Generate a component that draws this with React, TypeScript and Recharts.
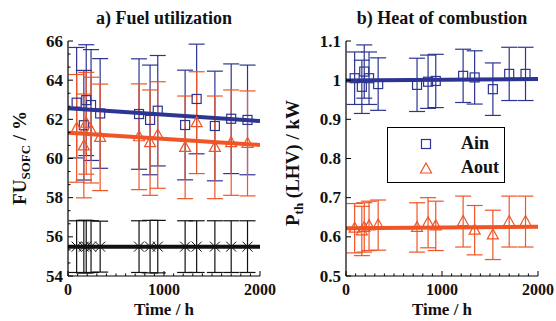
import React from 'react';
import { ComposedChart, Scatter, Line, XAxis, YAxis, ErrorBar, Legend } from 'recharts';

// ---------- data ----------
const times = [90, 165, 190, 240, 335, 740, 855, 935, 1220, 1340, 1530, 1700, 1870];

const fuIn = [62.85, 61.7, 62.98, 62.73, 62.3, 62.27, 61.97, 62.44, 61.71, 63.04, 61.66, 62.03, 61.97];
const fuInErr = [2.82, 2.8, 2.83, 2.83, 2.8, 2.82, 2.8, 2.82, 2.8, 2.8, 2.8, 2.8, 2.8];
const fuOut = [61.54, 60.64, 61.8, 61.45, 61.08, 61.11, 60.81, 61.2, 60.57, 61.83, 60.57, 60.81, 60.77];
const fuOutErr = [2.75, 2.65, 2.6, 2.7, 2.72, 2.7, 2.69, 2.72, 2.62, 2.6, 2.62, 2.69, 2.68];
const fuRef = [55.5, 55.5, 55.5, 55.5, 55.5, 55.5, 55.5, 55.5, 55.5, 55.5, 55.5, 55.5, 55.5];
const fuRefErr = [1.32, 1.34, 1.34, 1.32, 1.3, 1.32, 1.34, 1.34, 1.32, 1.32, 1.32, 1.32, 1.32];

const pIn = [1.005, 0.983, 1.022, 1.005, 0.99, 0.988, 0.996, 0.998, 1.011, 1.007, 0.977, 1.016, 1.016];
const pInErr = [0.067, 0.068, 0.068, 0.067, 0.067, 0.068, 0.068, 0.068, 0.068, 0.068, 0.067, 0.068, 0.068];
const pOut = [0.622, 0.615, 0.624, 0.628, 0.63, 0.624, 0.636, 0.628, 0.639, 0.617, 0.605, 0.639, 0.639];
const pOutErr = [0.063, 0.063, 0.063, 0.063, 0.064, 0.063, 0.064, 0.063, 0.065, 0.063, 0.063, 0.065, 0.065];

const trendT = [0, 2000];
const fuInTrend = [62.56, 61.91];
const fuOutTrend = [61.32, 60.69];
const fuRefTrend = [55.5, 55.5];
const pInTrend = [0.999, 1.003];
const pOutTrend = [0.622, 0.626];

const xMajor = [0, 1000, 2000];
const xMinor = Array.from({ length: 21 }, (_, i) => i * 100);
const fuMajor = [54, 56, 58, 60, 62, 64, 66];
const fuMinor = Array.from({ length: 19 }, (_, i) => 54 + (i * 2) / 3);
const pMajor = [0.5, 0.6, 0.7, 0.8, 0.9, 1.0, 1.1];

const legendLabels = ['Ain', 'Aout'];
const titles = ['a) Fuel utilization', 'b) Heat of combustion'];

// ---------- styles ----------
const BLUE = '#2c3592';
const ORANGE = '#ef5527';
const BLACK = '#111111';
const FONT = '"Liberation Serif", "Times New Roman", serif';

const build = (vals: number[], errs: number[]) => times.map((t, i) => ({ t, y: vals[i], e: errs[i] }));
const buildTrend = (vals: number[]) => trendT.map((t, i) => ({ t, y: vals[i] }));

const Square = (p: any) => (
  <rect x={p.cx - 4.5} y={p.cy - 4.5} width={9} height={9} fill="none" stroke={BLUE} strokeWidth={1.2} />
);
const Triangle = (p: any) => (
  <polygon
    points={`${p.cx},${p.cy - 6} ${p.cx - 5.5},${p.cy + 4} ${p.cx + 5.5},${p.cy + 4}`}
    fill="none"
    stroke={ORANGE}
    strokeWidth={1.2}
  />
);
const Cross = (p: any) => (
  <g stroke={BLACK} strokeWidth={1}>
    <line x1={p.cx - 5} y1={p.cy - 5} x2={p.cx + 5} y2={p.cy + 5} />
    <line x1={p.cx - 5} y1={p.cy + 5} x2={p.cx + 5} y2={p.cy - 5} />
  </g>
);

const isIn = (arr: number[], v: number) => arr.some((m) => Math.abs(m - v) < 1e-6);

const makeYTick = (side: 'left' | 'right', majors: number[], fmt: (v: number) => string) => (props: any) => {
  const { x, y, payload } = props;
  const v = payload.value;
  const major = isIn(majors, v);
  const len = major ? 5 : 2.5;
  const dir = side === 'left' ? 1 : -1;
  return (
    <g>
      <line x1={x} y1={y} x2={x + dir * len} y2={y} stroke="#000" strokeWidth={1} />
      {side === 'left' && major && (
        <text x={x - 5} y={y} textAnchor="end" dominantBaseline="central" fontFamily={FONT} fontWeight="bold" fontSize={17} fill="#111">
          {fmt(v)}
        </text>
      )}
    </g>
  );
};

const makeXTick = (side: 'bottom' | 'top') => (props: any) => {
  const { x, y, payload } = props;
  const v = payload.value;
  const major = isIn(xMajor, v);
  const len = major ? 5 : 2.5;
  const dir = side === 'bottom' ? -1 : 1;
  return (
    <g>
      <line x1={x} y1={y} x2={x} y2={y + dir * len} stroke="#000" strokeWidth={1} />
      {side === 'bottom' && major && (
        <text x={x} y={y + 13} textAnchor="middle" dominantBaseline="central" fontFamily={FONT} fontWeight="bold" fontSize={16} fill="#111">
          {String(v)}
        </text>
      )}
    </g>
  );
};

const XLabel = (props: any) => {
  const vb = props.viewBox;
  return (
    <text x={vb.x + vb.width / 2} y={vb.y + 33} textAnchor="middle" dominantBaseline="central" fontFamily={FONT} fontWeight="bold" fontSize={17} fill="#111">
      Time / h
    </text>
  );
};

const YLabelFU = (props: any) => {
  const cx = 19;
  const cy = 158;
  return (
    <text x={cx} y={cy} transform={`rotate(-90, ${cx}, ${cy})`} textAnchor="middle" dominantBaseline="central" fontFamily={FONT} fontWeight="bold" fontSize={19} fill="#111">
      FU
      <tspan fontSize={13} dy={6}>SOFC</tspan>
      <tspan dy={-6}> / %</tspan>
    </text>
  );
};

const YLabelP = (props: any) => {
  const cx = 14;
  const cy = 163;
  return (
    <text x={cx} y={cy} transform={`rotate(-90, ${cx}, ${cy})`} textAnchor="middle" dominantBaseline="central" fontFamily={FONT} fontWeight="bold" fontSize={19} fill="#111">
      P
      <tspan fontSize={13} dy={6}>th</tspan>
      <tspan dy={-6}> (LHV) / kW</tspan>
    </text>
  );
};

const LegendBox = () => (
  <div
    style={{
      width: 116,
      height: 54,
      border: '1px solid #000',
      background: '#fff',
      fontFamily: FONT,
      fontWeight: 'bold',
      fontSize: 18,
      color: '#111',
      position: 'relative',
    }}
  >
    {legendLabels.map((lab, i) => (
      <div key={lab} style={{ position: 'absolute', left: 0, top: 6 + i * 24, height: 20, width: 116 }}>
        <svg width={20} height={20} style={{ position: 'absolute', left: 28, top: 0 }}>
          {i === 0 ? <Square cx={10} cy={10} /> : <Triangle cx={10} cy={11} />}
        </svg>
        <span style={{ position: 'absolute', left: 73, top: -1, lineHeight: '20px' }}>{lab}</span>
      </div>
    ))}
  </div>
);

const W = 278;
const H = 321;
const MARGIN = { top: 41, right: 18, bottom: 0, left: 0 };

const Panel = (props: {
  series: { data: any[]; shape: any; color: string; name: string }[];
  trends: { data: any[]; color: string }[];
  domain: [number, number];
  yTicks: number[];
  yMajor: number[];
  fmt: (v: number) => string;
  yLabel: any;
  legend?: boolean;
}) => (
  <ComposedChart width={W} height={H} margin={MARGIN}>
    <XAxis
      dataKey="t"
      type="number"
      domain={[0, 2000]}
      ticks={xMinor}
      interval={0}
      tickSize={0}
      tickMargin={0}
      tickLine={false}
      height={45}
      axisLine={{ stroke: '#000', strokeWidth: 1.2 }}
      tick={makeXTick('bottom')}
      allowDataOverflow
      label={<XLabel />}
    />
    <XAxis
      xAxisId="top"
      orientation="top"
      type="number"
      dataKey="t"
      domain={[0, 2000]}
      ticks={xMinor}
      interval={0}
      tickSize={0}
      tickMargin={0}
      tickLine={false}
      height={0}
      axisLine={{ stroke: '#000', strokeWidth: 1.2 }}
      tick={makeXTick('top')}
    />
    <YAxis
      type="number"
      domain={props.domain}
      ticks={props.yTicks}
      interval={0}
      tickSize={0}
      tickMargin={0}
      tickLine={false}
      width={68}
      axisLine={{ stroke: '#000', strokeWidth: 1.2 }}
      tick={makeYTick('left', props.yMajor, props.fmt)}
      allowDataOverflow
      label={props.yLabel}
    />
    <YAxis
      yAxisId="r"
      orientation="right"
      type="number"
      domain={props.domain}
      ticks={props.yTicks}
      interval={0}
      tickSize={0}
      tickMargin={0}
      tickLine={false}
      width={0}
      axisLine={{ stroke: '#000', strokeWidth: 1.2 }}
      tick={makeYTick('right', props.yMajor, props.fmt)}
    />
    {props.series.map((s) => (
      <Scatter key={s.name} name={s.name} data={s.data} dataKey="y" shape={s.shape} isAnimationActive={false}>
        <ErrorBar dataKey="e" direction="y" width={8} stroke={s.color} strokeWidth={1.2} />
      </Scatter>
    ))}
    {props.trends.map((tr, i) => (
      <Line
        key={'tr' + i}
        data={tr.data}
        dataKey="y"
        stroke={tr.color}
        strokeWidth={4}
        dot={false}
        activeDot={false}
        isAnimationActive={false}
        legendType="none"
      />
    ))}
    {props.legend && (
      <Legend
        layout="vertical"
        align="center"
        verticalAlign="middle"
        content={<LegendBox />}
        wrapperStyle={{ left: 109, top: 127, width: 118, height: 56 }}
      />
    )}
  </ComposedChart>
);

export default function App() {
  return (
    <div style={{ position: 'fixed', left: 0, top: 0, width: 556, height: 321, background: '#fff' }}>
      {titles.map((t, i) => (
        <div
          key={t}
          style={{
            position: 'absolute',
            left: i * W + 68,
            width: 192,
            top: 7,
            textAlign: 'center',
            fontFamily: FONT,
            fontWeight: 'bold',
            fontSize: 18,
            lineHeight: '22px',
            color: '#111',
            whiteSpace: 'nowrap',
          }}
        >
          {t}
        </div>
      ))}
      <div style={{ position: 'absolute', left: 0, top: 0 }}>
        <Panel
          series={[
            { data: build(fuIn, fuInErr), shape: Square, color: BLUE, name: 'Ain' },
            { data: build(fuOut, fuOutErr), shape: Triangle, color: ORANGE, name: 'Aout' },
            { data: build(fuRef, fuRefErr), shape: Cross, color: BLACK, name: 'ref' },
          ]}
          trends={[
            { data: buildTrend(fuInTrend), color: BLUE },
            { data: buildTrend(fuOutTrend), color: ORANGE },
            { data: buildTrend(fuRefTrend), color: BLACK },
          ]}
          domain={[54, 66]}
          yTicks={fuMinor}
          yMajor={fuMajor}
          fmt={(v) => String(Math.round(v))}
          yLabel={<YLabelFU />}
        />
      </div>
      <div style={{ position: 'absolute', left: W, top: 0 }}>
        <Panel
          series={[
            { data: build(pIn, pInErr), shape: Square, color: BLUE, name: 'Ain' },
            { data: build(pOut, pOutErr), shape: Triangle, color: ORANGE, name: 'Aout' },
          ]}
          trends={[
            { data: buildTrend(pInTrend), color: BLUE },
            { data: buildTrend(pOutTrend), color: ORANGE },
          ]}
          domain={[0.5, 1.1]}
          yTicks={pMajor}
          yMajor={pMajor}
          fmt={(v) => (Math.abs(v - 1) < 1e-6 ? '1' : v.toFixed(1))}
          yLabel={<YLabelP />}
          legend
        />
      </div>
    </div>
  );
}
